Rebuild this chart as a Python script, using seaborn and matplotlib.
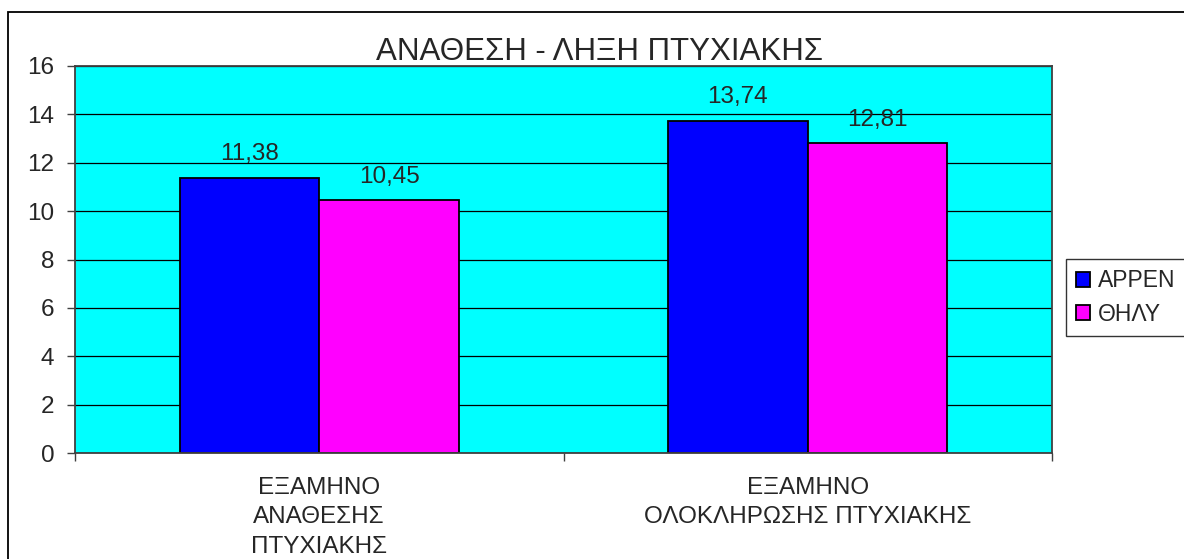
import matplotlib
matplotlib.use("Agg")
import matplotlib.pyplot as plt
from matplotlib.patches import Rectangle
import pandas as pd
import seaborn as sns

# data
categories = ["ΕΞΑΜΗΝΟ\nΑΝΑΘΕΣΗΣ\nΠΤΥΧΙΑΚΗΣ", "ΕΞΑΜΗΝΟ\nΟΛΟΚΛΗΡΩΣΗΣ ΠΤΥΧΙΑΚΗΣ"]
series = ["ΑΡΡΕΝ", "ΘΗΛΥ"]
male = [11.38, 13.74]
female = [10.45, 12.81]
colors = ["#0000FF", "#FF00FF"]

df = pd.DataFrame({
    "cat": categories * 2,
    "sex": [series[0]] * 2 + [series[1]] * 2,
    "val": male + female,
})

sns.set_theme(style="white")
plt.rcParams["font.family"] = ["Liberation Sans", "DejaVu Sans"]

fig = plt.figure(figsize=(11.84, 5.59), dpi=100)
ax = fig.add_axes([75 / 1184, 1 - 453 / 559, (1052 - 75) / 1184, (453 - 66) / 559])

sns.barplot(data=df, x="cat", y="val", hue="sex", palette=colors, width=0.572,
            edgecolor="black", linewidth=1.3, saturation=1, ax=ax, legend=True)

ax.set_facecolor("#00FFFF")
ax.set_ylim(0, 16)
ax.set_xlim(-0.5, 1.5)
ax.set_yticks(range(0, 17, 2))
ax.yaxis.grid(True, color="black", linewidth=0.9)
ax.set_axisbelow(True)
for s in ax.spines.values():
    s.set_color("#404040")
    s.set_linewidth(1.3)

ax.set_xlabel("")
ax.set_ylabel("")
ax.tick_params(axis="y", labelsize=17.5, length=6, width=1, color="#404040", pad=9, left=True)
ax.tick_params(axis="x", which="major", labelsize=17.5, length=0, pad=17)
ax.set_xticks([-0.5, 0.5, 1.5], minor=True)
ax.tick_params(axis="x", which="minor", length=6, width=1, color="#404040", bottom=True)
for lab in ax.get_xticklabels():
    lab.set_linespacing(1.45)

# value labels with comma decimals
vals = [male, female]
for cont, v in zip(ax.containers, vals):
    ax.bar_label(cont, labels=[f"{x:.2f}".replace(".", ",") for x in v], padding=9, fontsize=17.5)

fig.text(600 / 1184, 1 - 60 / 559, "ΑΝΑΘΕΣΗ - ΛΗΞΗ ΠΤΥΧΙΑΚΗΣ", fontsize=22.5,
         ha="center", va="baseline")

handles, labels = ax.get_legend_handles_labels()
for h in handles:
    h.set_edgecolor("black")
ax.legend(handles, labels, loc="upper left", bbox_to_anchor=(1066 / 1184, 1 - 259 / 559),
          bbox_transform=fig.transFigure, fontsize=16.5, frameon=True, fancybox=False,
          edgecolor="black", handlelength=0.6, handleheight=0.6, handletextpad=0.35,
          labelspacing=0.45, borderpad=0.45, borderaxespad=0)

fig.add_artist(Rectangle((8 / 1184, -0.1), 1.2, 1.1 - 12 / 559, transform=fig.transFigure,
                         fill=False, edgecolor="black", linewidth=1.3))

fig.savefig("out.png", dpi=100, facecolor="white")
